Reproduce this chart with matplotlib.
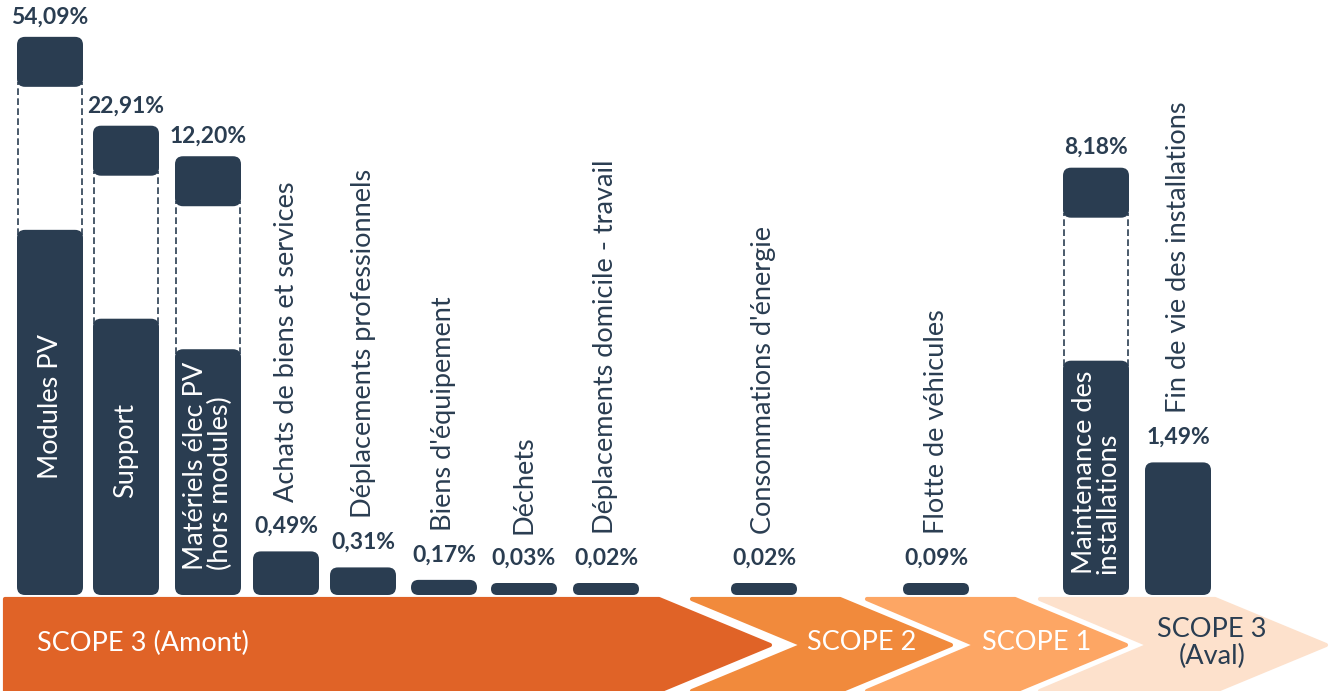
import matplotlib
matplotlib.use("Agg")
import matplotlib.pyplot as plt
from matplotlib.patches import FancyBboxPatch, Polygon

plt.rcParams['font.family'] = ['Lato', 'DejaVu Sans']

# data
categories = ["Modules PV", "Support", "Matériels élec PV\n(hors modules)",
              "Achats de biens et services", "Déplacements professionnels",
              "Biens d'équipement", "Déchets", "Déplacements domicile - travail",
              "Consommations d'énergie", "Flotte de véhicules",
              "Maintenance des\ninstallations", "Fin de vie des installations"]
values = [54.09, 22.91, 12.20, 0.49, 0.31, 0.17, 0.03, 0.02, 0.02, 0.09, 8.18, 1.49]
scopes = ["SCOPE 3 (Amont)", "SCOPE 2", "SCOPE 1", "SCOPE 3\n(Aval)"]

# layout (pixel-like units, baseline at 0)
x_pos = [50, 126, 208, 286, 363, 444, 524, 606, 764, 936, 1096, 1178]
bar_w = 66
navy = '#2a3d51'
scope_cols = ['#e06327', '#f18a3c', '#fda664', '#fde1cc']
scope_txt = ['white', 'white', 'white', navy]


def bar_top(v):
    # broken axis: values above 5% drawn on a compressed linear scale
    if v > 5:
        return 404 + 2.85 * v
    return max(89 * v, 12)


fig = plt.figure(figsize=(13.33, 6.91), dpi=100)
ax = fig.add_axes([0, 0, 1, 1])
ax.set_xlim(0, 1333)
ax.set_ylim(-96, 595)
ax.axis('off')


def rbox(x0, y0, w, h, r=8):
    r = min(r, h / 2)
    p = FancyBboxPatch((x0, y0), w, h, boxstyle="round,pad=0,rounding_size=%g" % r,
                       fc=navy, ec='none', zorder=3)
    ax.add_patch(p)


for x, v, name in zip(x_pos, values, categories):
    top = bar_top(v)
    x0 = x - bar_w / 2
    lab = ("%.2f%%" % v).replace('.', ',')
    if v > 5:
        lower = top - 193
        rbox(x0, 0, bar_w, lower)
        rbox(x0, top - 50, bar_w, 50)
        for xe in (x0 + 0.7, x0 + bar_w - 0.7):
            ax.plot([xe, xe], [lower - 5, top - 45], color=navy, lw=1.2,
                    ls=(0, (4, 2)), zorder=2)
        ax.text(x, lower / 2 + 6, name, rotation=90, ha='center', va='center',
                multialignment='left', color='white', fontsize=19.5, linespacing=0.95,
                zorder=4)
        ax.text(x, top + 20, lab, ha='center', va='center', fontsize=16.5,
                fontweight='bold', color=navy)
    else:
        rbox(x0, 0, bar_w, top)
        ax.text(x, top + 25, lab, ha='center', va='center', fontsize=16.5,
                fontweight='bold', color=navy)
        ax.text(x, top + 49, name, rotation=90, ha='center', va='bottom',
                color=navy, fontsize=19.5)

# scope chevrons along the bottom
chevrons = [
    [(5, -4), (659, -4), (770, -50), (659, -96), (5, -96)],
    [(692, -4), (840, -4), (951, -50), (840, -96), (692, -96), (803, -50)],
    [(867, -4), (1015, -4), (1126, -50), (1015, -96), (867, -96), (976, -50)],
    [(1040, -4), (1215, -4), (1326, -50), (1215, -96), (1040, -96), (1149, -50)],
]
for pts, c in zip(chevrons, scope_cols):
    ax.add_patch(Polygon(pts, closed=True, fc=c, ec=c, lw=3, joinstyle='round',
                         zorder=1))

scope_x = [37, 862, 1037, 1212]
for i, (s, xs) in enumerate(zip(scopes, scope_x)):
    ax.text(xs, -48, s, ha='left' if i == 0 else 'center', va='center',
            color=scope_txt[i], fontsize=19.5, linespacing=1.1, zorder=2)

fig.savefig('out.png', dpi=100)
